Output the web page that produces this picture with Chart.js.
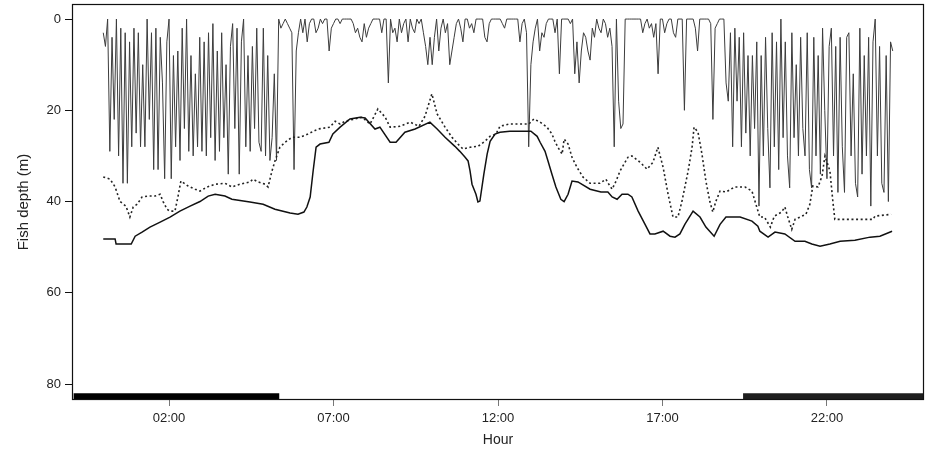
<!DOCTYPE html>
<html>
<head>
<meta charset="utf-8">
<script src="https://cdn.jsdelivr.net/npm/chart.js@4.4.1/dist/chart.umd.min.js"></script>
<style>
  html, body { margin: 0; padding: 0; background: #fff; }
  #depthChart { display: block; }
</style>
</head>
<body>
<canvas id="depthChart" width="928" height="450"></canvas>
<script>
// Raw tag depth, one reading every 4 minutes from 00:00 to 24:00 (15 per hour)
const rawStepMinutes = 4;
const rawDepth = [
  3, 6, 0, 29, 4, 22, 0, 30, 2, 36, 3, 36, 5, 28, 2,
  25, 3, 28, 10, 28, 0, 22, 3, 33, 2, 33, 4, 14, 35, 5,
  0, 35, 8, 28, 7, 31, 2, 24, 0, 29, 8, 30, 12, 28, 4,
  29, 5, 30, 3, 26, 1, 31, 7, 29, 3, 26, 10, 34, 6, 1,
  24, 2, 34, 5, 0, 28, 8, 29, 6, 24, 2, 27, 29, 2, 30,
  8, 31, 26, 12, 31, 0, 2, 1, 0, 1, 2, 3, 33, 7, 3,
  0, 3, 0, 5, 1, 0, 0, 3, 2, 0, 1, 0, 0, 7, 2,
  1, 0, 0, 1, 0, 0, 0, 0, 0, 1, 3, 2, 4, 5, 1,
  4, 2, 1, 0, 0, 0, 0, 3, 0, 0, 14, 0, 3, 2, 5,
  0, 3, 1, 0, 5, 0, 2, 3, 0, 1, 0, 3, 6, 10, 4,
  10, 4, 0, 7, 2, 0, 3, 1, 10, 7, 4, 1, 0, 2, 5,
  0, 0, 2, 1, 3, 0, 0, 0, 0, 4, 5, 1, 0, 0, 0,
  0, 0, 1, 2, 0, 0, 0, 0, 0, 0, 5, 1, 0, 3, 28,
  10, 5, 2, 0, 7, 3, 4, 1, 0, 0, 0, 3, 0, 12, 0,
  0, 0, 0, 1, 0, 12, 5, 14, 7, 3, 4, 7, 9, 2, 4,
  0, 2, 3, 0, 1, 4, 2, 6, 28, 0, 18, 24, 23, 0, 0,
  0, 0, 0, 0, 0, 0, 3, 1, 0, 2, 1, 4, 1, 12, 0,
  0, 3, 1, 0, 0, 3, 4, 0, 0, 0, 20, 0, 0, 0, 0,
  2, 7, 0, 0, 0, 0, 0, 1, 22, 2, 1, 0, 0, 0, 14,
  18, 3, 28, 2, 18, 4, 28, 3, 25, 8, 30, 8, 24, 5, 41,
  8, 30, 4, 24, 37, 3, 28, 5, 33, 0, 26, 5, 30, 37, 3,
  26, 10, 30, 4, 24, 30, 3, 33, 37, 4, 30, 8, 34, 2, 20,
  35, 6, 2, 30, 6, 38, 4, 28, 38, 4, 3, 30, 12, 36, 39,
  2, 34, 8, 30, 4, 41, 5, 0, 30, 6, 36, 38, 8, 40, 5,
  7,
];

// Solid line
const meanHour = [0.00,0.36,0.39,0.85,0.97,1.18,1.42,1.73,2.03,2.33,2.64,2.94,3.19,3.40,3.70,3.91,4.46,4.86,5.22,5.68,5.92,6.10,6.19,6.29,6.38,6.47,6.59,6.86,6.98,7.20,7.50,7.81,7.96,8.26,8.41,8.72,8.90,9.17,9.48,9.93,10.15,10.39,10.69,10.84,11.00,11.09,11.15,11.21,11.33,11.39,11.45,11.57,11.67,11.76,11.91,12.06,12.36,12.82,13.00,13.19,13.28,13.43,13.52,13.64,13.76,13.91,14.01,14.13,14.25,14.43,14.80,15.13,15.34,15.47,15.62,15.77,15.95,16.07,16.26,16.47,16.62,16.77,17.02,17.23,17.38,17.53,17.68,17.93,18.14,18.32,18.57,18.75,18.93,19.36,19.72,19.90,19.96,20.21,20.42,20.72,21.03,21.33,21.54,21.79,22.09,22.40,22.85,23.31,23.61,23.98];
const meanDepth = [48.2,48.2,49.3,49.3,47.6,46.7,45.6,44.5,43.4,42.1,41.0,40.0,38.8,38.4,38.8,39.5,40.1,40.6,41.7,42.5,42.8,42.3,41.2,39.0,33.3,28.1,27.4,27.0,25.2,23.7,21.9,21.5,21.7,24.1,23.7,27.0,27.0,24.8,24.1,22.6,24.1,25.9,27.9,29.0,30.3,31.1,33.3,36.2,38.4,40.1,39.9,34.0,29.6,26.8,25.2,24.8,24.6,24.6,24.6,25.7,27.0,29.0,31.1,34.0,36.8,39.5,40.0,38.4,35.5,35.7,37.3,37.9,37.9,39.0,39.5,38.4,38.4,39.0,42.1,45.0,47.1,47.1,46.5,47.6,47.8,47.1,45.0,42.1,43.4,45.6,47.6,45.0,43.4,43.4,44.3,45.4,46.5,47.8,46.7,47.1,48.7,48.7,49.3,49.8,49.3,48.7,48.5,47.8,47.6,46.5];

// Dotted line
const dotHour = [0.00,0.21,0.36,0.51,0.69,0.81,0.91,1.03,1.18,1.36,1.57,1.73,1.82,1.94,2.03,2.18,2.27,2.36,2.58,2.79,2.94,3.16,3.40,3.70,3.91,4.16,4.46,4.55,4.71,4.92,5.01,5.13,5.22,5.37,5.53,5.74,5.98,6.22,6.53,6.89,7.05,7.20,7.35,7.65,7.87,8.11,8.35,8.57,8.72,9.02,9.33,9.60,9.78,9.99,10.15,10.39,10.60,10.78,10.94,11.15,11.39,11.60,11.76,11.94,12.06,12.36,12.94,13.09,13.28,13.49,13.64,13.73,13.82,13.95,14.01,14.13,14.25,14.40,14.58,14.80,15.10,15.28,15.37,15.47,15.59,15.71,15.83,15.95,16.07,16.32,16.53,16.71,16.86,17.02,17.17,17.32,17.47,17.59,17.78,17.90,17.96,18.08,18.20,18.32,18.44,18.53,18.62,18.75,18.93,19.20,19.51,19.72,19.84,19.96,20.10,20.28,20.40,20.62,20.72,20.81,20.93,21.03,21.18,21.36,21.48,21.57,21.73,21.85,21.94,22.09,22.18,22.24,23.40,23.46,23.95];
const dotDepth = [34.6,35.1,36.8,40.0,41.0,43.4,41.2,40.6,39.0,38.8,38.8,38.4,40.0,41.7,42.1,42.1,39.0,35.5,36.6,37.3,37.7,36.8,36.2,36.0,36.8,36.2,35.7,35.1,35.7,36.2,36.8,33.3,31.1,28.1,27.0,25.9,25.9,25.2,24.1,23.7,22.4,23.0,22.4,21.9,21.5,23.0,19.7,21.5,23.7,23.5,22.6,23.5,21.3,16.4,20.8,23.7,25.9,27.4,28.5,28.1,27.9,26.8,25.7,25.2,23.5,23.0,23.0,21.9,22.6,23.7,25.2,26.8,28.1,29.6,26.3,27.4,30.3,32.5,34.6,36.0,36.0,35.1,36.2,37.3,35.5,33.3,31.8,30.3,30.0,31.4,32.9,31.4,28.1,32.5,38.4,43.4,43.4,40.0,33.3,28.1,23.7,24.8,29.6,35.5,40.0,42.3,40.0,37.7,37.9,36.8,36.8,37.7,40.6,43.4,43.4,45.6,43.2,42.3,41.2,43.4,46.1,43.9,43.4,42.8,40.6,36.6,36.8,34.4,30.0,33.3,40.0,43.9,43.9,43.2,42.8];

// Night periods (dark bars along the bottom)
const nightStart = [-0.9, 19.45];
const nightEnd = [5.35, 24.95];
const nightColors = ["#000000", "#1e1e1e"];
const nightBarDepth = 82.8;

const xTickHours = [2, 7, 12, 17, 22];
const xTickLabels = ["02:00", "07:00", "12:00", "17:00", "22:00"];
const yTicks = [0, 20, 40, 60, 80];

const FONT = "'Liberation Sans', Arial, Helvetica, sans-serif";

function toPoints(xs, ys) {
  return xs.map((x, i) => ({ x, y: ys[i] }));
}

const rawPoints = rawDepth.map((d, i) => ({ x: (i * rawStepMinutes) / 60, y: d }));

const nightDatasets = nightStart.map((start, i) => ({
  data: [{ x: start, y: nightBarDepth }, { x: nightEnd[i], y: nightBarDepth }],
  borderColor: nightColors[i],
  borderWidth: 7,
  borderCapStyle: "butt",
  pointRadius: 0,
  order: 0,
}));

const frameBox = {
  id: "frameBox",
  afterDraw(chart) {
    const { ctx, chartArea: a } = chart;
    ctx.save();
    ctx.strokeStyle = "#111";
    ctx.lineWidth = 1.2;
    ctx.strokeRect(a.left + 0.5, a.top + 0.5, a.right - a.left - 1, a.bottom - a.top - 1);
    ctx.restore();
  },
};

function noEdgePadding(scale) {
  scale.paddingTop = 0;
  scale.paddingBottom = 0;
  scale.paddingLeft = 0;
  scale.paddingRight = 0;
}

new Chart(document.querySelector("#depthChart"), {
  type: "line",
  data: {
    datasets: [
      {
        data: rawPoints,
        borderColor: "#3c3c3c",
        borderWidth: 1,
        pointRadius: 0,
        tension: 0,
        order: 3,
      },
      {
        data: toPoints(dotHour, dotDepth),
        borderColor: "#222",
        borderWidth: 1.6,
        borderDash: [2, 2.6],
        pointRadius: 0,
        tension: 0,
        order: 2,
      },
      {
        data: toPoints(meanHour, meanDepth),
        borderColor: "#111",
        borderWidth: 1.5,
        pointRadius: 0,
        tension: 0,
        order: 1,
      },
      ...nightDatasets,
    ],
  },
  options: {
    responsive: false,
    animation: false,
    devicePixelRatio: 1,
    layout: { padding: { top: 4, right: 4, left: 0, bottom: 0 } },
    plugins: { legend: { display: false }, tooltip: { enabled: false } },
    scales: {
      x: {
        type: "linear",
        min: -0.95,
        max: 24.95,
        afterBuildTicks: (scale) => { scale.ticks = xTickHours.map((v) => ({ value: v })); },
        afterFit: (scale) => { scale.height = 50; noEdgePadding(scale); },
        grid: { drawOnChartArea: false, drawTicks: true, tickLength: 6, color: "#777", lineWidth: 1 },
        border: { display: false },
        ticks: {
          padding: 5,
          color: "#222",
          font: { family: FONT, size: 13 },
          maxRotation: 0,
          callback: (v) => xTickLabels[xTickHours.indexOf(v)] || "",
        },
        title: {
          display: true,
          text: "Hour",
          color: "#222",
          font: { family: FONT, size: 14 },
          padding: { top: 0, bottom: 1 },
        },
      },
      y: {
        type: "linear",
        reverse: true,
        min: -3.3,
        max: 83.5,
        afterBuildTicks: (scale) => { scale.ticks = yTicks.map((v) => ({ value: v })); },
        afterFit: (scale) => { scale.width = 72; noEdgePadding(scale); },
        grid: { drawOnChartArea: false, drawTicks: true, tickLength: 7, color: "#111", lineWidth: 1 },
        border: { display: false },
        ticks: {
          padding: 4,
          color: "#222",
          font: { family: FONT, size: 13 },
          callback: (v) => String(v),
        },
        title: {
          display: true,
          text: "Fish depth (m)",
          color: "#222",
          font: { family: FONT, size: 15 },
          padding: { top: 15, bottom: 0 },
        },
      },
    },
  },
  plugins: [frameBox],
});
</script>
</body>
</html>
